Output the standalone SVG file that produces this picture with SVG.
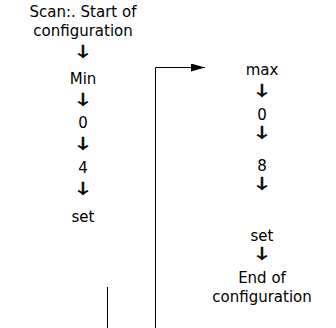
<svg xmlns="http://www.w3.org/2000/svg" width="336" height="328" viewBox="0 0 336 328">
<style>
text{font-family:"DejaVu Sans","Liberation Sans",sans-serif;font-size:15px;fill:#000;text-anchor:middle}
.a{font-family:"Noto Sans CJK SC","DejaVu Sans",sans-serif;font-size:14px;stroke:#000;stroke-width:0.6}
.c{stroke:#000;stroke-width:1;fill:none}
</style>
<defs>
<marker id="ah" markerWidth="14" markerHeight="8" refX="14" refY="4" orient="auto" markerUnits="userSpaceOnUse">
<path d="M0,0 L14,4 L0,8 Z" fill="#000"/>
</marker>
</defs>
<rect width="336" height="328" fill="#fff"/>
<g id="left">
<g id="start"><text x="83" y="17">Scan:. Start of</text><text x="83" y="36">configuration</text></g>
<text class="a" transform="translate(83,56) scale(1.5,1)">↓</text>
<g id="min"><text x="83" y="84">Min</text></g>
<text class="a" transform="translate(83,104) scale(1.5,1)">↓</text>
<g id="l0"><text x="83" y="128">0</text></g>
<text class="a" transform="translate(83,148) scale(1.5,1)">↓</text>
<g id="l4"><text x="83" y="173">4</text></g>
<text class="a" transform="translate(83,193) scale(1.5,1)">↓</text>
<g id="lset"><text x="83" y="222">set</text></g>
</g>
<g id="right">
<g id="max"><text x="262" y="75">max</text></g>
<text class="a" transform="translate(262,95) scale(1.5,1)">↓</text>
<g id="r0"><text x="262" y="120">0</text></g>
<text class="a" transform="translate(262,137) scale(1.5,1)">↓</text>
<g id="r8"><text x="262" y="171">8</text></g>
<text class="a" transform="translate(262,188) scale(1.5,1)">↓</text>
<g id="rset"><text x="262" y="241">set</text></g>
<text class="a" transform="translate(262,258) scale(1.5,1)">↓</text>
<g id="end"><text x="262" y="283">End of</text><text x="262" y="302">configuration</text></g>
</g>
<g id="connectors">
<line class="c" x1="107.5" y1="287" x2="107.5" y2="328"/>
<path class="c" d="M155.5,328 V67.5 H205" marker-end="url(#ah)"/>
</g>
</svg>
